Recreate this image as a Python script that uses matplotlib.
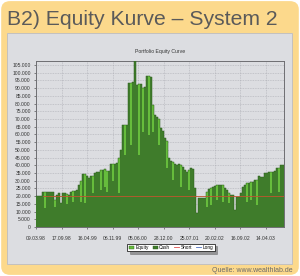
import numpy as np
import matplotlib
matplotlib.use("Agg")
import matplotlib.pyplot as plt
from matplotlib.patches import FancyBboxPatch, Patch
from matplotlib.lines import Line2D
from matplotlib.ticker import FuncFormatter

# ---- data (sampled every 10 bars) ----
equity = [20300, 20300, 20300, 22500, 22500, 22500, 22900, 22900, 22900, 17500,
          21000, 21800, 15500, 22000, 22000, 21500, 21000, 22500, 23500, 23500,
          24000, 27000, 29500, 34300, 34300, 33000, 31700, 33300, 33300, 35000,
          35800, 35800, 37000, 37000, 37500, 36000, 36000, 40800, 40800, 40800,
          41300, 45000, 49900, 66100, 66100, 66100, 93100, 93100, 94000, 107600,
          92000, 93000, 93000, 90000, 91000, 98000, 98000, 97000, 79000, 72600,
          71000, 70000, 64000, 62000, 58000, 56000, 45000, 42500, 42000, 41000,
          40500, 41000, 40000, 39000, 37000, 35800, 37000, 38000, 37500, 25000,
          9000, 18600, 18600, 18600, 19000, 23000, 24500, 25000, 26000, 26500,
          27200, 27000, 27500, 27200, 25000, 24000, 22000, 21000, 20500, 11000,
          19600, 19600, 22000, 26000, 27000, 28300, 28300, 29400, 29400, 30500,
          30500, 33000, 32600, 32600, 34800, 34800, 35800, 35800, 35800, 36500,
          38000, 38000, 40200, 40200, 40200]

# cash differs from equity only where a position was open (light stripes)
cash_stripes = {4: 12300, 9: 13000, 15: 14600, 18: 16000, 22: 16000, 24: 15500,
                28: 22000, 32: 24000, 34: 26000, 35: 22900, 38: 30000, 41: 22000,
                44: 46700, 47: 53000, 51: 46700, 53: 61500, 56: 59600, 58: 61500,
                61: 53000, 65: 38000, 68: 30500, 72: 26000, 76: 24000, 85: 13000,
                87: 14300, 90: 17500, 93: 16200, 96: 15500, 105: 16200, 107: 17500,
                110: 14300, 117: 22000, 121: 22700}
cash = [cash_stripes.get(i, v) for i, v in enumerate(equity)]

bar_step = 10
bars = np.arange(len(equity)) * bar_step

short_level = 20000
short_start_bar = 35

tick_bars = [0, 128, 255, 383, 510, 638, 765, 893, 1020, 1148]
tick_labels = ["09.03.98", "17.09.98", "16.04.99", "06.11.99", "05.06.00",
               "28.12.00", "25.07.01", "20.02.02", "16.09.02", "14.04.03"]

# ---- styling ----
plt.rcParams['font.family'] = ['Liberation Sans', 'DejaVu Sans']
YELLOW = "#FCD98C"
PANEL = "#DCDDE1"
DARK = "#3F7C2B"
LIGHT = "#66BC3C"

fig = plt.figure(figsize=(3.0, 2.76), dpi=100)
fig.patch.set_facecolor("white")

outer = FancyBboxPatch((0.004, 0.004), 0.992, 0.992,
                       boxstyle="round,pad=0,rounding_size=0.03",
                       transform=fig.transFigure, facecolor=YELLOW,
                       edgecolor="none", zorder=0)
fig.patches.append(outer)
panel = FancyBboxPatch((7 / 300, 1 - 264 / 276), 285 / 300, 231 / 276,
                       boxstyle="square,pad=0", transform=fig.transFigure,
                       facecolor=PANEL, edgecolor="#BDBDC0", lw=0.6, zorder=1)
fig.patches.append(panel)

fig.text(7 / 300, 1 - 25 / 276, "B2) Equity Kurve \u2013 System 2",
         fontsize=15.2, color="#5A5A5A", ha="left", va="baseline")
fig.text(293 / 300, 1 - 272 / 276, "Quelle: www.wealthlab.de",
         fontsize=5.0, color="#6A6A6A", ha="right", va="baseline")
fig.text(160 / 300, 1 - 51.5 / 276, "Portfolio Equity Curve",
         fontsize=3.7, color="#333333", ha="center", va="center")

ax = fig.add_axes([36 / 300, 1 - 227 / 276, 248 / 300, 166 / 276])
ax.set_facecolor(PANEL)
ax.set_zorder(2)

ax.fill_between(bars, equity, 0, step="post", color=LIGHT, lw=0, zorder=2)
ax.fill_between(bars, cash, 0, step="post", color=DARK, lw=0, zorder=3)
ax.step(bars, equity, where="post", color="#2E5E1E", lw=0.35, zorder=4)
ax.plot([short_start_bar, bars[-1] + bar_step], [short_level, short_level],
        color="#C2552E", lw=0.6, zorder=5)

ax.set_xlim(0, bars[-1] + bar_step - 10)
ax.set_ylim(0, 107600)
ax.set_yticks(np.arange(0, 105001, 5000))
ax.yaxis.set_major_formatter(FuncFormatter(
    lambda v, p: "0" if v == 0 else f"{int(v):,}".replace(",", ".")))
ax.set_xticks(tick_bars)
ax.set_xticklabels(tick_labels)
ax.tick_params(axis="both", labelsize=3.6, length=1.2, width=0.4,
               colors="#333333", pad=2.5)
ax.tick_params(axis="x", pad=5)
ax.grid(True, color="#A8A8B0", lw=0.4, ls=(0, (1.5, 1.5)), zorder=1)
ax.set_axisbelow(True)
for s in ax.spines.values():
    s.set_color("#6E6E72")
    s.set_linewidth(0.7)

handles = [Patch(facecolor=LIGHT, edgecolor="#2E5E1E", lw=0.3, label="Equity"),
           Patch(facecolor=DARK, edgecolor="#2E5E1E", lw=0.3, label="Cash"),
           Line2D([], [], color="#E05050", lw=0.6, label="Short"),
           Line2D([], [], color="#5070C0", lw=0.6, label="Long")]
leg = fig.legend(handles=handles, loc="center", ncol=4,
                 bbox_to_anchor=(171 / 300, 1 - 247.5 / 276),
                 fontsize=3.4, frameon=True, fancybox=False, shadow=True,
                 handlelength=1.1, handleheight=0.8, handletextpad=0.3,
                 columnspacing=0.8, borderpad=0.3)
leg.get_frame().set_edgecolor("black")
leg.get_frame().set_linewidth(0.5)
leg.get_frame().set_facecolor("white")

fig.savefig("out.png", dpi=100, facecolor=fig.get_facecolor())
